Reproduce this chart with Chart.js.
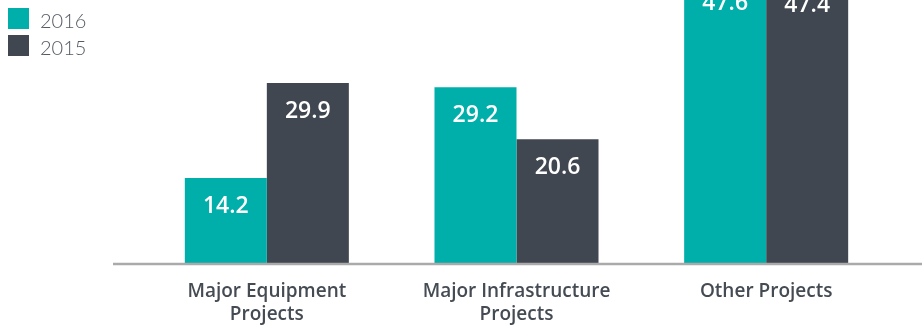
<!DOCTYPE html>
<html>
<head>
<meta charset="utf-8">
<script src="https://cdn.jsdelivr.net/npm/chart.js@4.4.1/dist/chart.umd.min.js"></script>
<style>
	html, body { margin: 0; padding: 0; background: #fff; }
	#wrap { position: relative; width: 922px; height: 325px; overflow: hidden; }
	#legend { position: absolute; left: 8px; top: 8px; font-family: Lato, sans-serif; font-weight: 300; font-size: 20px; color: #555b63; }
	#legend div { height: 27px; line-height: 24px; display: flex; align-items: flex-start; }
	#legend span.box { display: inline-block; width: 21px; height: 21px; margin-right: 11px; }
</style>
</head>
<body>
<div id="wrap">
	<canvas id="grafico" width="922" height="325"></canvas>
	<div id="legend"></div>
</div>
<script>
var categorias = [["Major Equipment", "Projects"], ["Major Infrastructure", "Projects"], "Other Projects"];
var series = ["2016", "2015"];
var valores2016 = [14.2, 29.2, 47.6];
var valores2015 = [29.9, 20.6, 47.4];
var colores = ["#00afaa", "#414750"];

var leyenda = document.getElementById("legend");
for (var i in series) {
	var fila = document.createElement("div");
	fila.innerHTML = '<span class="box" style="background:' + colores[i] + '"></span>' + series[i];
	leyenda.appendChild(fila);
}

// etiquetas blancas dentro de cada barra, cerca del borde superior
var etiquetas = {
	id: 'etiquetas',
	afterDatasetsDraw: function(chart) {
		var ctx = chart.ctx;
		var y = chart.scales.y;
		ctx.save();
		ctx.fillStyle = '#ffffff';
		ctx.font = '600 23px "Open Sans", sans-serif';
		ctx.textAlign = 'center';
		ctx.textBaseline = 'middle';
		chart.data.datasets.forEach(function(ds, d) {
			chart.getDatasetMeta(d).data.forEach(function(bar, i) {
				var top = y.getPixelForValue(ds.data[i]);
				ctx.fillText(ds.data[i].toFixed(1), bar.x, top + 28);
			});
		});
		ctx.restore();
	}
};

// linea base gris
var lineaBase = {
	id: 'lineaBase',
	afterDatasetsDraw: function(chart) {
		var ctx = chart.ctx;
		var a = chart.chartArea;
		ctx.save();
		ctx.strokeStyle = '#aaaaaa';
		ctx.lineWidth = 2.5;
		ctx.beginPath();
		ctx.moveTo(113, a.bottom);
		ctx.lineTo(chart.width, a.bottom);
		ctx.stroke();
		ctx.restore();
	}
};

var ctx = document.getElementById("grafico");
var grafico = new Chart(ctx, {
	type: 'bar',
	data: {
		labels: categorias,
		datasets: [
			{ label: series[0], data: valores2016, backgroundColor: colores[0], borderWidth: 0 },
			{ label: series[1], data: valores2015, backgroundColor: colores[1], borderWidth: 0 }
		]
	},
	options: {
		responsive: false,
		animation: false,
		events: [],
		layout: { padding: { left: 142, right: 31, top: 0, bottom: 0 } },
		datasets: { bar: { categoryPercentage: 0.657, barPercentage: 1 } },
		plugins: { legend: { display: false }, tooltip: { enabled: false } },
		scales: {
			x: {
				grid: { display: false, drawTicks: false },
				border: { display: false },
				afterFit: function(scale) { scale.height = 61; },
				ticks: {
					color: '#454b53',
					padding: 16,
					font: { family: '"Open Sans", sans-serif', size: 19, weight: 600, lineHeight: '23px' }
				}
			},
			y: {
				display: false,
				min: 0,
				max: 43.6
			}
		}
	},
	plugins: [etiquetas, lineaBase]
});
</script>
</body>
</html>
